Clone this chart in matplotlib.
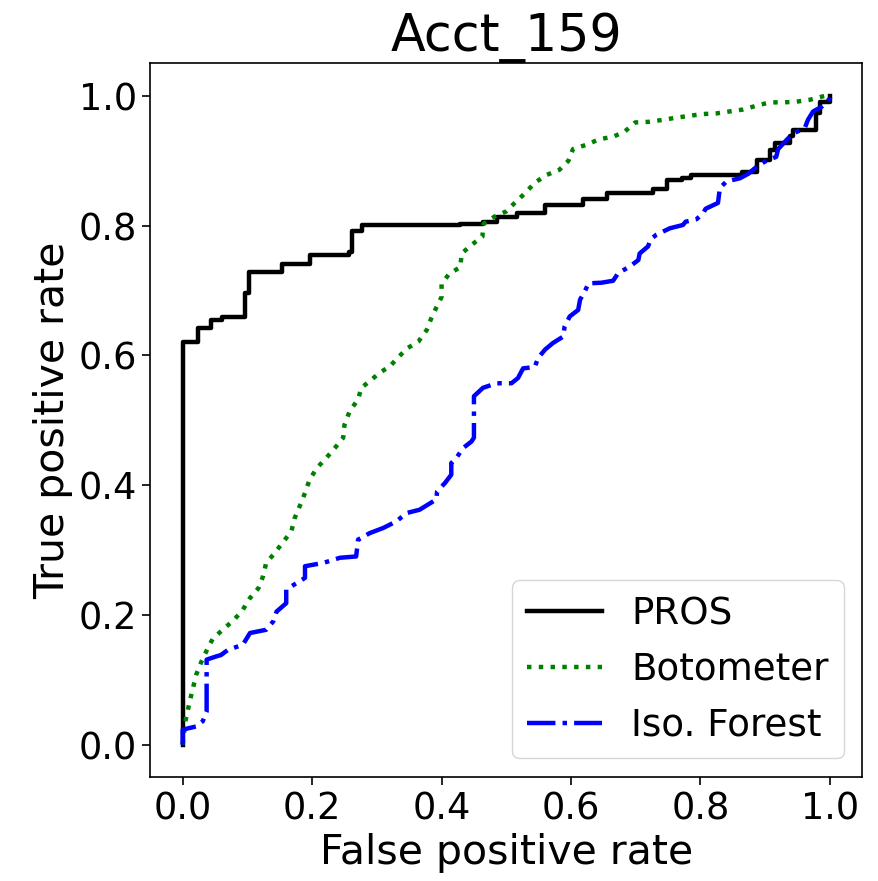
import matplotlib
matplotlib.use("Agg")
import matplotlib.pyplot as plt

title = "Acct_159"
xlabel = "False positive rate"
ylabel = "True positive rate"
labels = ["PROS", "Botometer", "Iso. Forest"]

# PROS (step ROC curve)
pros_fpr = [0.0, 0.0, 0.024, 0.024, 0.044, 0.044, 0.06, 0.06, 0.096, 0.096, 0.103, 0.103,
            0.154, 0.154, 0.197, 0.197, 0.257, 0.257, 0.262, 0.262, 0.277, 0.277, 0.428, 0.428,
            0.464, 0.464, 0.485, 0.485, 0.516, 0.516, 0.56, 0.56, 0.619, 0.619, 0.656, 0.656,
            0.727, 0.727, 0.748, 0.748, 0.771, 0.771, 0.786, 0.786, 0.864, 0.864, 0.887, 0.887,
            0.908, 0.908, 0.915, 0.915, 0.938, 0.938, 0.943, 0.943, 0.978, 0.978, 0.985, 0.985,
            1.0, 1.0]
pros_tpr = [0.0, 0.621, 0.621, 0.642, 0.642, 0.655, 0.655, 0.659, 0.659, 0.696, 0.696, 0.728,
            0.728, 0.741, 0.741, 0.754, 0.754, 0.759, 0.759, 0.791, 0.791, 0.801, 0.801, 0.803,
            0.803, 0.806, 0.806, 0.814, 0.814, 0.819, 0.819, 0.832, 0.832, 0.841, 0.841, 0.851,
            0.851, 0.856, 0.856, 0.870, 0.870, 0.874, 0.874, 0.878, 0.878, 0.883, 0.883, 0.901,
            0.901, 0.917, 0.917, 0.928, 0.928, 0.938, 0.938, 0.947, 0.947, 0.974, 0.974, 0.991,
            0.991, 1.0]

# Botometer
bot_fpr = [0.0, 0.004, 0.011, 0.021, 0.029, 0.039, 0.047, 0.062, 0.080, 0.093, 0.104, 0.117,
           0.124, 0.129, 0.142, 0.155, 0.168, 0.173, 0.181, 0.189, 0.196, 0.207, 0.222, 0.235,
           0.248, 0.250, 0.258, 0.271, 0.276, 0.290, 0.304, 0.320, 0.333, 0.347, 0.364, 0.377,
           0.384, 0.392, 0.400, 0.400, 0.412, 0.429, 0.431, 0.446, 0.463, 0.465, 0.482, 0.500,
           0.513, 0.529, 0.544, 0.562, 0.582, 0.596, 0.603, 0.625, 0.643, 0.665, 0.683, 0.699,
           0.720, 0.742, 0.760, 0.781, 0.804, 0.825, 0.845, 0.866, 0.887, 0.907, 0.928, 0.948,
           0.969, 0.992, 1.0]
bot_tpr = [0.0, 0.035, 0.067, 0.108, 0.128, 0.149, 0.164, 0.177, 0.193, 0.208, 0.226, 0.241,
           0.259, 0.280, 0.295, 0.312, 0.329, 0.349, 0.368, 0.388, 0.408, 0.426, 0.442, 0.457,
           0.473, 0.493, 0.514, 0.532, 0.550, 0.561, 0.573, 0.583, 0.597, 0.611, 0.621, 0.639,
           0.657, 0.674, 0.690, 0.710, 0.726, 0.736, 0.757, 0.770, 0.783, 0.803, 0.814, 0.822,
           0.835, 0.850, 0.866, 0.878, 0.886, 0.900, 0.918, 0.925, 0.933, 0.937, 0.945, 0.959,
           0.960, 0.963, 0.966, 0.969, 0.972, 0.973, 0.976, 0.979, 0.985, 0.990, 0.990, 0.991,
           0.994, 1.0, 1.0]

# Isolation Forest
iso_fpr = [0.0, 0.0, 0.008, 0.021, 0.031, 0.037, 0.037, 0.052, 0.059, 0.070, 0.093, 0.104,
           0.129, 0.140, 0.145, 0.160, 0.160, 0.176, 0.189, 0.189, 0.217, 0.243, 0.268, 0.271,
           0.289, 0.310, 0.330, 0.346, 0.366, 0.392, 0.393, 0.405, 0.415, 0.415, 0.423, 0.433,
           0.446, 0.450, 0.450, 0.464, 0.485, 0.508, 0.518, 0.526, 0.544, 0.549, 0.560, 0.572,
           0.588, 0.590, 0.598, 0.611, 0.614, 0.621, 0.627, 0.647, 0.665, 0.673, 0.691, 0.704,
           0.706, 0.719, 0.723, 0.732, 0.753, 0.773, 0.777, 0.794, 0.804, 0.808, 0.827, 0.830,
           0.840, 0.861, 0.874, 0.887, 0.900, 0.917, 0.920, 0.933, 0.943, 0.961, 0.966, 0.974,
           0.987, 1.0, 1.0]
iso_tpr = [0.0, 0.023, 0.025, 0.028, 0.036, 0.051, 0.131, 0.136, 0.138, 0.146, 0.154, 0.172,
           0.177, 0.190, 0.205, 0.218, 0.239, 0.249, 0.257, 0.275, 0.280, 0.288, 0.290, 0.316,
           0.326, 0.334, 0.344, 0.357, 0.362, 0.378, 0.390, 0.403, 0.416, 0.434, 0.442, 0.457,
           0.467, 0.473, 0.537, 0.550, 0.557, 0.557, 0.565, 0.580, 0.582, 0.596, 0.609, 0.619,
           0.629, 0.644, 0.660, 0.670, 0.686, 0.698, 0.711, 0.712, 0.715, 0.727, 0.737, 0.747,
           0.757, 0.768, 0.779, 0.786, 0.796, 0.801, 0.806, 0.810, 0.819, 0.826, 0.835, 0.858,
           0.868, 0.873, 0.880, 0.891, 0.899, 0.906, 0.918, 0.932, 0.942, 0.950, 0.963, 0.976,
           0.983, 0.996, 1.0]

fig = plt.figure(figsize=(8.79, 8.81), dpi=100)
ax = fig.add_axes([0.171, 0.118, 0.810, 0.810])

ax.plot(pros_fpr, pros_tpr, color="black", linestyle="-", linewidth=3.2, label=labels[0])
ax.plot(bot_fpr, bot_tpr, color="green", linestyle=":", linewidth=3.2, label=labels[1])
ax.plot(iso_fpr, iso_tpr, color="blue", linestyle="-.", linewidth=3.2, label=labels[2])

ax.set_xticks([0.0, 0.2, 0.4, 0.6, 0.8, 1.0])
ax.set_yticks([0.0, 0.2, 0.4, 0.6, 0.8, 1.0])
ax.tick_params(labelsize=26.5, length=6, width=1.2)
ax.set_xlabel(xlabel, fontsize=29.5)
ax.set_ylabel(ylabel, fontsize=29.5)
ax.set_title(title, fontsize=36.5)
for s in ax.spines.values():
    s.set_linewidth(1.2)
ax.legend(loc="lower right", fontsize=26.8)

fig.savefig("out.png", dpi=100)
